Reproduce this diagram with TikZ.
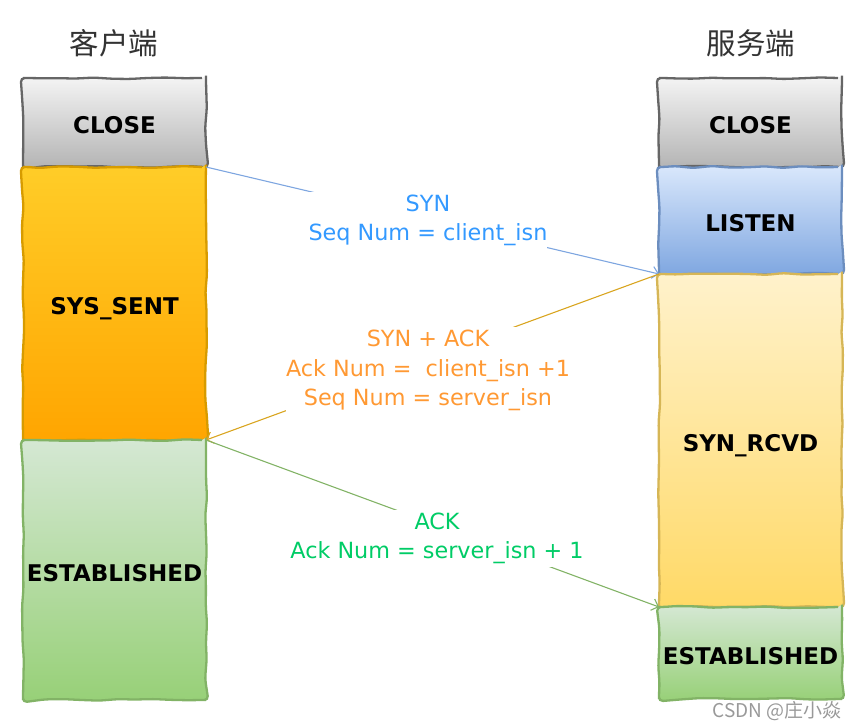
\documentclass[tikz,border=0pt]{standalone}
\usepackage{fontspec}
\setmainfont{DejaVu Sans}
\newfontfamily\cjk{Noto Sans CJK SC}
\usetikzlibrary{arrows.meta,decorations.pathmorphing}
\definecolor{closeline}{HTML}{666666}
\definecolor{closetop}{HTML}{F5F5F5}
\definecolor{closebot}{HTML}{B3B3B3}
\definecolor{sentline}{HTML}{D79B00}
\definecolor{senttop}{HTML}{FFCD28}
\definecolor{sentbot}{HTML}{FFA500}
\definecolor{listenline}{HTML}{6C8EBF}
\definecolor{listentop}{HTML}{DAE8FC}
\definecolor{listenbot}{HTML}{7EA6E0}
\definecolor{rcvdline}{HTML}{D6B656}
\definecolor{rcvdtop}{HTML}{FFF2CC}
\definecolor{rcvdbot}{HTML}{FFD966}
\definecolor{estline}{HTML}{82B366}
\definecolor{esttop}{HTML}{D5E8D4}
\definecolor{estbot}{HTML}{97D077}
\definecolor{synblue}{HTML}{3399FF}
\definecolor{synlinec}{HTML}{7EA6E0}
\definecolor{sakorange}{HTML}{FF9933}
\definecolor{saklinec}{HTML}{D9A520}
\definecolor{ackgreen}{HTML}{00CC66}
\definecolor{acklinec}{HTML}{82B366}
\begin{document}
\begin{tikzpicture}[x=1pt,y=-1pt,
  box/.style={draw, line width=2.3pt, minimum width=183pt, inner sep=0pt, outer sep=0pt,
    font=\bfseries\fontsize{23}{27}\selectfont, text height=22pt, text depth=0pt,
    decorate, decoration={random steps, segment length=18pt, amplitude=1pt}, rounded corners=4pt},
  closebox/.style={box, draw=closeline, top color=closetop, bottom color=closebot, minimum height=89pt},
  sentbox/.style={box, draw=sentline, top color=senttop, bottom color=sentbot},
  listenbox/.style={box, draw=listenline, top color=listentop, bottom color=listenbot},
  rcvdbox/.style={box, draw=rcvdline, top color=rcvdtop, bottom color=rcvdbot},
  estbox/.style={box, draw=estline, top color=esttop, bottom color=estbot},
  title/.style={font=\cjk\fontsize{29.5}{33}\selectfont, text=black!80},
  msg/.style={fill=white, align=center, inner xsep=0pt, inner ysep=3pt, font=\fontsize{22.3}{29.5}\selectfont},
  link/.style={line width=1.1pt, -{Straight Barb[length=6pt,width=12pt]}},
]
\pgfmathsetseed{7}
\useasboundingbox (0,0) rectangle (857,727);
% titles
\node[title] (ctitle) at (114,43) {客户端};
\node[title] (stitle) at (751,43) {服务端};
% client column
\node[closebox] (cclose) at (114.5,122.5) {CLOSE};
\node[sentbox, minimum height=273pt] (csent) at (114.5,303.5) {SYS\_SENT};
\node[estbox, minimum height=260pt] (cest) at (114.5,570) {ESTABLISHED};
% server column
\node[closebox] (sclose) at (750.5,122.5) {CLOSE};
\node[listenbox, minimum height=107pt] (slisten) at (750.5,220.5) {LISTEN};
\node[rcvdbox, minimum height=333pt] (srcvd) at (750.5,440.5) {SYN\_RCVD};
\node[estbox, minimum height=92pt] (sest) at (750.5,653) {ESTABLISHED};
% messages
\draw[link, synlinec] (cclose.south east) -- node[msg, text=synblue, pos=0.49, yshift=-1pt] {SYN\\Seq Num = client\_isn} (slisten.south west);
\draw[link, saklinec] (slisten.south west) -- node[msg, text=sakorange, pos=0.51, yshift=-12pt] {SYN + ACK\\Ack Num =\ \ client\_isn +1\\Seq Num = server\_isn} (csent.south east);
\draw[link, acklinec] (csent.south east) -- node[msg, text=ackgreen, pos=0.51, yshift=-13pt] {ACK\\Ack Num = server\_isn + 1} (srcvd.south west);
% watermark
\node[font=\cjk\fontsize{19}{22}\selectfont, text=black!40] (wm) at (777,711) {CSDN @庄小焱};
\end{tikzpicture}
\end{document}
